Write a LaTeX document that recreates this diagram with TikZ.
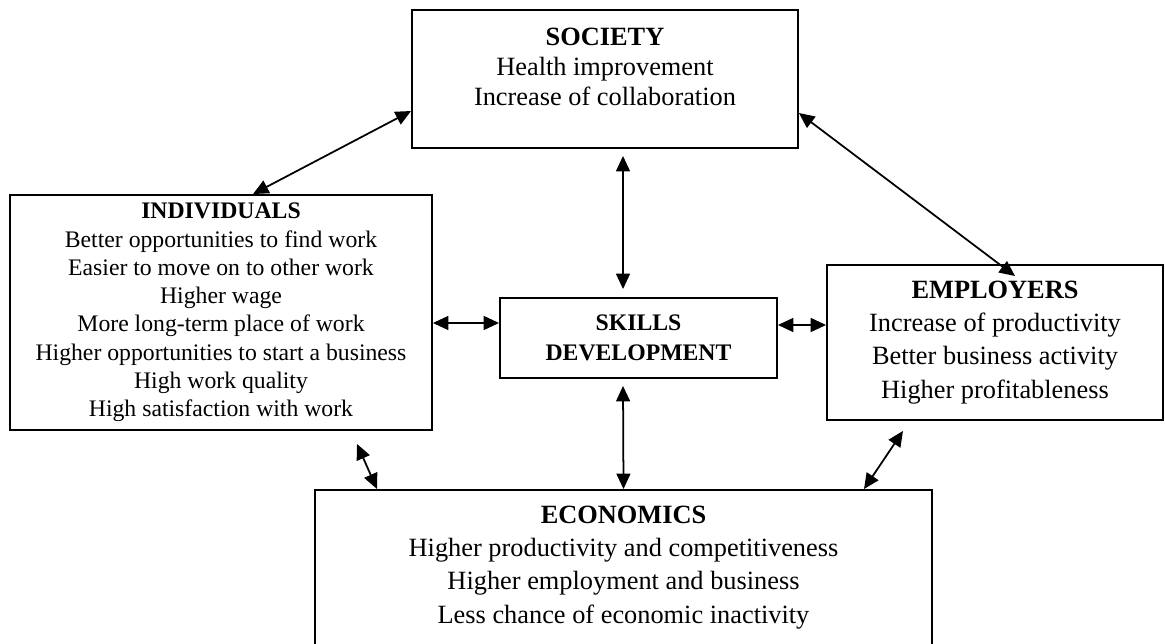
\documentclass[tikz,border=0pt]{standalone}
\usepackage{fontspec}
\setmainfont{Liberation Serif}
\usetikzlibrary{arrows.meta, calc}

\begin{document}
\begin{tikzpicture}[
    x=0.02cm, y=-0.02cm,
    box/.style={draw, rectangle, line width=1.1pt, align=center, inner sep=0pt},
    small/.style={font=\fontsize{13.5}{16.1}\selectfont},
    large/.style={font=\fontsize{15}{18.9}\selectfont},
    arrow/.style={{Triangle[length=0.31cm, width=0.28cm]}-{Triangle[length=0.31cm, width=0.28cm]}, line width=1pt}
]
\useasboundingbox (0,0) rectangle (1165,644);

% Boxes
\node[box, minimum width=7.72cm, minimum height=2.76cm] (society) at (605,79) {};
\node[align=center, font=\fontsize{15}{17}\selectfont] (societytext) at (605,67) {\textbf{SOCIETY}\\Health improvement\\Increase of collaboration};

\node[box, small, minimum width=8.44cm, minimum height=4.7cm] (individuals) at (221,312.5) {\textbf{INDIVIDUALS}\\Better opportunities to find work\\Easier to move on to other work\\Higher wage\\More long-term place of work\\Higher opportunities to start a business\\High work quality\\High satisfaction with work};

\node[box, font=\fontsize{13.5}{17}\selectfont, minimum width=5.54cm, minimum height=1.6cm] (skills) at (638.5,338) {\textbf{SKILLS}\\\textbf{DEVELOPMENT}};

\node[box, large, minimum width=6.72cm, minimum height=3.1cm] (employers) at (995,342.5) {\textbf{EMPLOYERS}\\Increase of productivity\\Better business activity\\Higher profitableness};

\node[box, large, minimum width=12.34cm, minimum height=3.1cm] (economics) at (623.5,567.5) {\textbf{ECONOMICS}\\Higher productivity and competitiveness\\Higher employment and business\\Less chance of economic inactivity};

% Double arrows
\draw[arrow] ($(society.west)+(0,32)$) -- ($(individuals.north)+(32,0)$);
\draw[arrow] ($(society.east)+(0,34)$) -- ($(employers.north)+(20,12)$);
\draw[arrow] ($(society.south)+(18,7)$) -- ($(skills.north)+(-15.5,-8)$);
\draw[arrow] ($(individuals.east)+(0,10.5)$) -- ($(skills.west)+(0,-15)$);
\draw[arrow] ($(skills.east)+(0,-13)$) -- ($(employers.west)+(0,-17.5)$);
\draw[arrow] ($(skills.south)+(-15.5,7)$) -- (economics.north);
\draw[arrow] ($(individuals.south)+(136,13)$) -- ($(economics.north)+(-246.5,0)$);
\draw[arrow] ($(employers.south)+(-92,10)$) -- ($(economics.north)+(240.5,0)$);

\end{tikzpicture}
\end{document}
